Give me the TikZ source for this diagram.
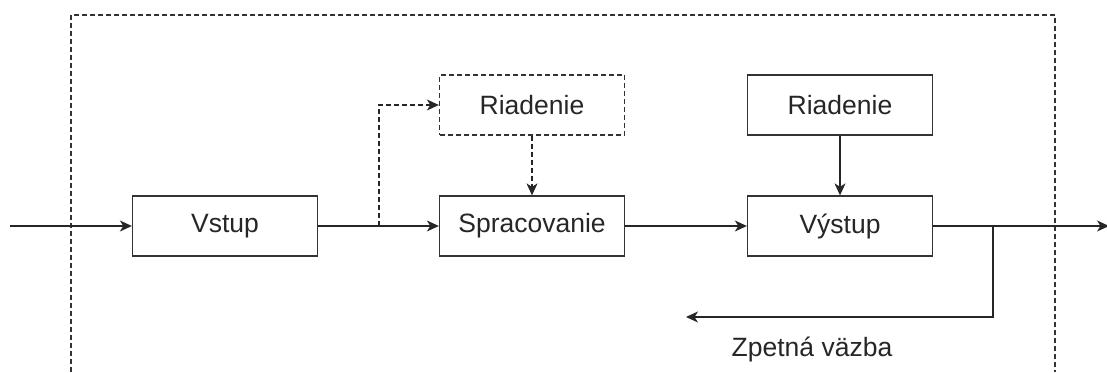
\documentclass[tikz,border=0pt]{standalone}
\usepackage{fontspec}
\setmainfont{Liberation Sans}
\usetikzlibrary{arrows.meta}
\begin{document}
\begin{tikzpicture}[x=1pt,y=-1pt,
  line width=1.3pt,
  every node/.style={font=\fontsize{26.5}{30}\selectfont, text=black!85},
  blk/.style={draw=black!80, minimum width=185pt, minimum height=60pt, inner sep=0pt},
  dsh/.style={dash pattern=on 5pt off 3pt},
  arr/.style={-{Stealth[length=12pt,width=11pt,inset=3.5pt]}, draw=black!85},
  ln/.style={draw=black!85}]
\useasboundingbox (0,0) rectangle (1107,372);
% outer dashed frame
\draw[dsh, draw=black!80] (71,372) -- (71,15) -- (1055,15) -- (1055,372);
% blocks
\node[blk] (vstup) at (225,226) {Vstup};
\node[blk] (sprac) at (532,226) {Spracovanie};
\node[blk] (vyst) at (840,226) {Výstup};
\node[blk, dsh] (r1) at (532,105) {Riadenie};
\node[blk] (r2) at (840,105) {Riadenie};
\node (zv) at (812,349) {Zpetná väzba};
% coordinates
\coordinate (in) at (10,226);
\coordinate (br1) at (379,226);
\coordinate (br2) at (993,226);
\coordinate (out) at (1109,226);
\coordinate (fb) at (686,317);
% connectors
\draw[arr] (in) -- (vstup.west);
\draw[ln] (vstup.east) -- (br1);
\draw[arr] (br1) -- (sprac.west);
\draw[arr, dsh] (br1) |- (r1.west);
\draw[arr, dsh] (r1.south) -- (sprac.north);
\draw[arr] (sprac.east) -- (vyst.west);
\draw[arr] (r2.south) -- (vyst.north);
\draw[ln] (vyst.east) -- (br2);
\draw[arr] (br2) -- (out);
\draw[arr] (br2) |- (fb);
\end{tikzpicture}
\end{document}
